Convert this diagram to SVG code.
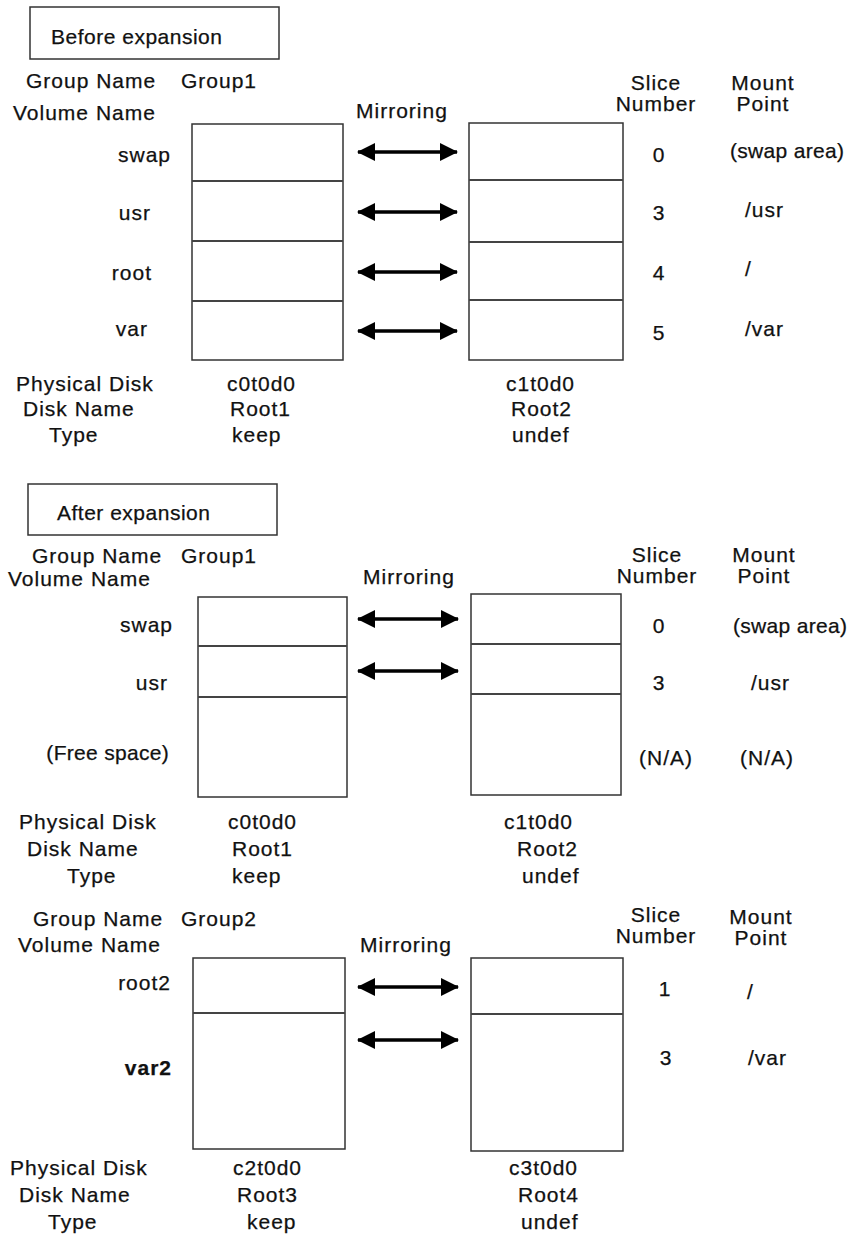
<svg xmlns="http://www.w3.org/2000/svg" width="851" height="1236" viewBox="0 0 851 1236">
<style>
text{font-family:"Liberation Sans",Arial,sans-serif;font-size:21px;fill:#111;letter-spacing:1px;stroke:#111;stroke-width:0.25}
.box{fill:#fff;stroke:#333;stroke-width:1.5}
.div{stroke:#444;stroke-width:2}
.arr{stroke:#000;stroke-width:3.5;fill:none;marker-start:url(#ah);marker-end:url(#ah)}
.m{text-anchor:middle}
.e{text-anchor:end}
.b{font-weight:bold}
.t{letter-spacing:0.5px}
.n{letter-spacing:0.3px}
</style>
<defs>
<marker id="ah" markerUnits="userSpaceOnUse" markerWidth="18" markerHeight="18" refX="17" refY="9" orient="auto-start-reverse">
<path d="M0,0 L18,9 L0,18 Z" fill="#000"/>
</marker>
</defs>
<rect width="851" height="1236" fill="#fff"/>

<g id="before">
<rect x="30" y="7" width="249" height="52" class="box"/>
<text x="51" y="44" class="t">Before expansion</text>
<text x="26" y="88">Group Name</text><text x="181" y="88">Group1</text>
<text x="13" y="120">Volume Name</text>
<text x="356" y="118">Mirroring</text>
<text x="656" y="90" class="m">Slice</text><text x="656" y="111" class="m">Number</text>
<text x="763" y="90" class="m">Mount</text><text x="763" y="111" class="m">Point</text>
</g>
<g id="disk-c0t0d0-a">
<rect x="192" y="124" width="151" height="236" class="box"/>
<line x1="192" y1="181" x2="343" y2="181" class="div"/>
<line x1="192" y1="241" x2="343" y2="241" class="div"/>
<line x1="192" y1="301" x2="343" y2="301" class="div"/>
<text x="171" y="162" class="e">swap</text>
<text x="151" y="220" class="e">usr</text>
<text x="152" y="280" class="e">root</text>
<text x="148" y="336" class="e">var</text>
</g>
<g id="disk-c1t0d0-a">
<rect x="469" y="123" width="154" height="237" class="box"/>
<line x1="469" y1="180" x2="623" y2="180" class="div"/>
<line x1="469" y1="242" x2="623" y2="242" class="div"/>
<line x1="469" y1="300" x2="623" y2="300" class="div"/>
<text x="659" y="162" class="m">0</text>
<text x="659" y="220" class="m">3</text>
<text x="659" y="280" class="m">4</text>
<text x="659" y="340" class="m">5</text>
<text x="730" y="158" class="n">(swap area)</text>
<text x="745" y="217">/usr</text>
<text x="745" y="276">/</text>
<text x="745" y="336">/var</text>
</g>
<g id="info-a">
<text x="16" y="391">Physical Disk</text>
<text x="23" y="416">Disk Name</text>
<text x="49" y="442">Type</text>
<text x="227" y="391">c0t0d0</text>
<text x="230" y="416">Root1</text>
<text x="232" y="442">keep</text>
<text x="506" y="391">c1t0d0</text>
<text x="511" y="416">Root2</text>
<text x="512" y="442">undef</text>
</g>

<g id="after">
<rect x="28" y="484" width="249" height="51" class="box"/>
<text x="57" y="520" class="t">After expansion</text>
<text x="32" y="563">Group Name</text><text x="181" y="563">Group1</text>
<text x="8" y="586">Volume Name</text>
<text x="363" y="584">Mirroring</text>
<text x="657" y="562" class="m">Slice</text><text x="657" y="583" class="m">Number</text>
<text x="764" y="562" class="m">Mount</text><text x="764" y="583" class="m">Point</text>
</g>
<g id="disk-c0t0d0-b">
<rect x="198" y="597" width="149" height="200" class="box"/>
<line x1="198" y1="646" x2="347" y2="646" class="div"/>
<line x1="198" y1="697" x2="347" y2="697" class="div"/>
<text x="173" y="632" class="e">swap</text>
<text x="168" y="690" class="e">usr</text>
<text x="169" y="760" class="e n">(Free space)</text>
</g>
<g id="disk-c1t0d0-b">
<rect x="471" y="594" width="150" height="201" class="box"/>
<line x1="471" y1="644" x2="621" y2="644" class="div"/>
<line x1="471" y1="694" x2="621" y2="694" class="div"/>
<text x="659" y="633" class="m">0</text>
<text x="659" y="690" class="m">3</text>
<text x="666" y="765" class="m">(N/A)</text>
<text x="740" y="765">(N/A)</text>
<text x="733" y="633" class="n">(swap area)</text>
<text x="751" y="690">/usr</text>
</g>
<g id="info-b">
<text x="19" y="829">Physical Disk</text>
<text x="27" y="856">Disk Name</text>
<text x="67" y="883">Type</text>
<text x="228" y="829">c0t0d0</text>
<text x="232" y="856">Root1</text>
<text x="232" y="883">keep</text>
<text x="504" y="829">c1t0d0</text>
<text x="517" y="856">Root2</text>
<text x="522" y="883">undef</text>
</g>

<g id="group2">
<text x="33" y="926">Group Name</text><text x="181" y="926">Group2</text>
<text x="18" y="952">Volume Name</text>
<text x="360" y="952">Mirroring</text>
<text x="656" y="922" class="m">Slice</text><text x="656" y="943" class="m">Number</text>
<text x="761" y="924" class="m">Mount</text><text x="761" y="945" class="m">Point</text>
</g>
<g id="disk-c2t0d0">
<rect x="193" y="958" width="152" height="191" class="box"/>
<line x1="193" y1="1013" x2="345" y2="1013" class="div"/>
<text x="171" y="990" class="e">root2</text>
<text x="172" y="1075" class="e b">var2</text>
</g>
<g id="disk-c3t0d0">
<rect x="471" y="958" width="152" height="193" class="box"/>
<line x1="471" y1="1014" x2="623" y2="1014" class="div"/>
<text x="665" y="996" class="m">1</text>
<text x="747" y="999">/</text>
<text x="666" y="1065" class="m">3</text>
<text x="748" y="1065">/var</text>
</g>
<g id="info-c">
<text x="10" y="1175">Physical Disk</text>
<text x="19" y="1202">Disk Name</text>
<text x="48" y="1229">Type</text>
<text x="233" y="1175">c2t0d0</text>
<text x="237" y="1202">Root3</text>
<text x="247" y="1229">keep</text>
<text x="509" y="1175">c3t0d0</text>
<text x="518" y="1202">Root4</text>
<text x="521" y="1229">undef</text>
</g>

<g id="connectors">
<line x1="358" y1="152" x2="457" y2="152" class="arr"/>
<line x1="358" y1="212" x2="457" y2="212" class="arr"/>
<line x1="358" y1="272" x2="457" y2="272" class="arr"/>
<line x1="358" y1="331" x2="457" y2="331" class="arr"/>
<line x1="358" y1="619" x2="458" y2="619" class="arr"/>
<line x1="358" y1="671" x2="458" y2="671" class="arr"/>
<line x1="358" y1="987" x2="458" y2="987" class="arr"/>
<line x1="358" y1="1040" x2="458" y2="1040" class="arr"/>
</g>
</svg>
